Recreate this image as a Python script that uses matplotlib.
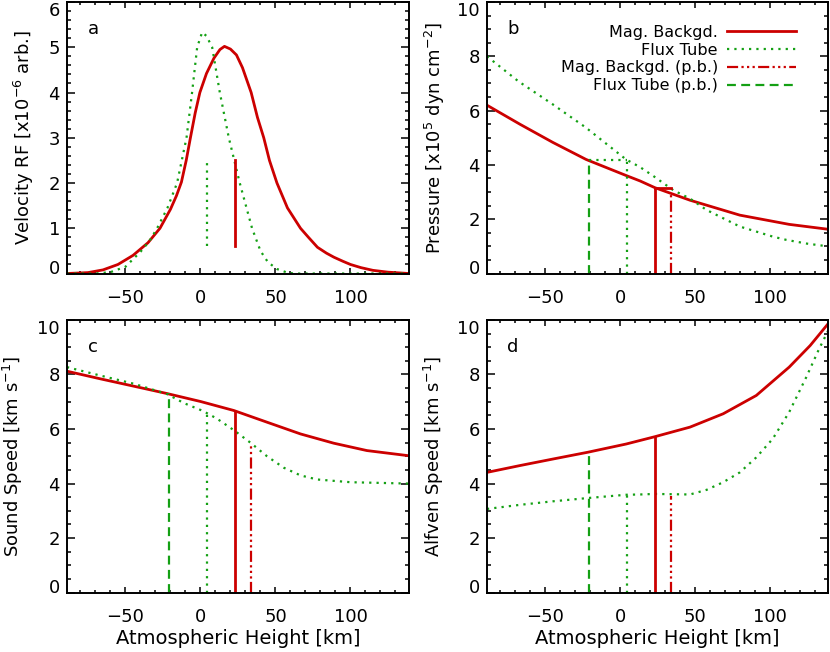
import numpy as np
import matplotlib.pyplot as plt
from matplotlib.lines import Line2D
from matplotlib.ticker import MultipleLocator

plt.rcParams['font.family'] = 'DejaVu Sans'

red = '#cc0000'
green = '#14a014'

# heights [km] of the line-forming markers
h_ft = 4.4
h_mb = 23.3
h_ft_pb = -21.1
h_mb_pb = 33.8

# velocity response function (x1e-6 arb.)
rf_mb_x = [-89, -75, -65, -55, -45, -35, -27, -20, -16, -12.7, -9.5, -6.7, -3.5, -0.4, 4, 9, 13, 16,
           20, 24, 28, 33.8, 38, 42.2, 46, 51, 58, 66.7, 72, 78, 84, 89, 95, 100, 107, 115, 125, 139]
rf_mb_y = [0.0, 0.02, 0.08, 0.2, 0.4, 0.68, 1.0, 1.42, 1.72, 2.02, 2.5, 3.0, 3.55, 4.0, 4.42, 4.76,
           4.95, 5.02, 4.96, 4.83, 4.55, 4.0, 3.45, 3.0, 2.5, 2.0, 1.45, 1.0, 0.8, 0.58, 0.45, 0.36,
           0.27, 0.2, 0.13, 0.07, 0.03, 0.0]
rf_ft_x = [-89, -70, -60, -50, -40, -34, -28.9, -22, -15.6, -9.3, -5.6, -2.2, 1.1, 4, 7.8, 12.9,
           18.9, 26.2, 34.4, 40, 45, 51, 57, 62, 139]
rf_ft_y = [0.0, 0.0, 0.03, 0.15, 0.48, 0.72, 1.0, 1.45, 2.0, 3.0, 4.0, 5.0, 5.33, 5.25, 5.0, 4.0,
           3.0, 2.0, 1.0, 0.5, 0.25, 0.1, 0.03, 0.0, 0.0]
rf_mark = [0.6, 2.5]

# pressure (x1e5 dyn cm^-2)
p_mb_x = [-89, -67, -45, -22.7, 4, 13.3, 23.3, 46.7, 80, 113, 139]
p_mb_y = [6.2, 5.5, 4.83, 4.2, 3.61, 3.41, 3.16, 2.7, 2.15, 1.81, 1.63]
p_ft_x = [-89, -68, -45, -23, 4, 13.3, 22, 35.5, 46.7, 57.8, 80, 102, 111, 125, 139]
p_ft_y = [8.0, 7.08, 6.23, 5.38, 4.2, 3.92, 3.6, 3.07, 2.76, 2.34, 1.73, 1.36, 1.24, 1.1, 1.0]
p_ft_top = 4.19
p_mb_top = 3.16
p_ft_pb_top = 4.1
p_mb_pb_top = 3.0

# sound speed (km/s)
cs_mb_x = [-89, -66.7, -44.4, -22.2, 0, 22.2, 44.4, 66.7, 88.9, 111, 139]
cs_mb_y = [8.12, 7.84, 7.57, 7.3, 7.01, 6.68, 6.25, 5.82, 5.48, 5.21, 5.02]
cs_ft_x = [-89, -66.7, -44.4, -22.2, -11, 0, 4.4, 11, 22.2, 33.3, 44.4, 55.6, 66.7, 77.8, 100, 139]
cs_ft_y = [8.27, 7.96, 7.66, 7.28, 6.95, 6.7, 6.58, 6.38, 5.96, 5.5, 5.0, 4.58, 4.3, 4.15, 4.05, 4.0]
cs_tops = [7.33, 6.58, 6.64, 5.5]  # ft_pb, ft, mb, mb_pb

# Alfven speed (km/s)
va_mb_x = [-89, -67, -44.9, -21.5, 4, 13.3, 23.3, 46.7, 68.9, 91, 113, 127, 139]
va_mb_y = [4.41, 4.66, 4.9, 5.15, 5.45, 5.58, 5.72, 6.07, 6.56, 7.23, 8.27, 9.06, 9.86]
va_ft_x = [-89, -67, -44.9, -21.5, 4, 13.3, 22.9, 46.7, 57.8, 68.9, 80, 91, 102, 113, 124.4, 133, 139]
va_ft_y = [3.07, 3.22, 3.35, 3.47, 3.59, 3.6, 3.62, 3.6, 3.77, 4.05, 4.41, 4.96, 5.64, 6.62, 7.9, 8.94, 9.6]
va_tops = [5.15, 3.6, 5.72, 3.56]

rf_ticks = [0, 1, 2, 3, 4, 5, 6]
ticks_10 = [0, 2, 4, 6, 8, 10]

dotted = (0, (1, 2.3))
dashed = (0, (4, 2.4))
dashdd = (0, (5, 1.5, 1, 1.5, 1, 1.5, 1, 1.5))

fig = plt.figure(figsize=(8.3, 6.52), dpi=100)
ax_a = fig.add_axes([0.0807, 0.5805, 0.412, 0.4164])
ax_b = fig.add_axes([0.5867, 0.5805, 0.411, 0.4164])
ax_c = fig.add_axes([0.0807, 0.091, 0.412, 0.4183])
ax_d = fig.add_axes([0.5867, 0.091, 0.411, 0.4183])

lw_s = 2.0
lw_d = 1.6

# a
ax_a.plot(rf_mb_x, rf_mb_y, color=red, lw=lw_s)
ax_a.plot(rf_ft_x, rf_ft_y, color=green, lw=lw_d, ls=dotted)
ax_a.plot([h_ft, h_ft], rf_mark, color=green, lw=lw_d, ls=dotted)
ax_a.plot([h_mb, h_mb], rf_mark, color=red, lw=lw_s)
ax_a.set_ylim(0, 6)
ax_a.set_ylabel('Velocity RF [x10$^{-6}$ arb.]')

# b
ax_b.plot(p_mb_x, p_mb_y, color=red, lw=lw_s)
ax_b.plot(p_ft_x, p_ft_y, color=green, lw=lw_d, ls=dotted)
ax_b.plot([h_ft_pb, h_ft_pb], [0, p_ft_pb_top], color=green, lw=lw_d, ls=dashed)
ax_b.plot([h_ft, h_ft], [0, p_ft_top], color=green, lw=lw_d, ls=dotted)
ax_b.plot([h_ft_pb, h_ft], [p_ft_top, p_ft_top], color=green, lw=lw_d, ls=dotted)
ax_b.plot([h_mb, h_mb], [0, p_mb_top], color=red, lw=lw_s)
ax_b.plot([h_mb, h_mb_pb], [p_mb_top, p_mb_top], color=red, lw=lw_s)
ax_b.plot([h_mb_pb, h_mb_pb], [0, p_mb_pb_top], color=red, lw=lw_d, ls=dashdd)
ax_b.set_ylim(0, 10)
ax_b.set_ylabel('Pressure [x10$^5$ dyn cm$^{-2}$]')

handles = [Line2D([], [], color=red, lw=lw_s),
           Line2D([], [], color=green, lw=lw_d, ls=dotted),
           Line2D([], [], color=red, lw=lw_d, ls=dashdd),
           Line2D([], [], color=green, lw=lw_d, ls=dashed)]
labels = ['Mag. Backgd.', 'Flux Tube', 'Mag. Backgd. (p.b.)', 'Flux Tube (p.b.)']
ax_b.legend(handles, labels, loc='upper right', bbox_to_anchor=(0.925, 0.94), frameon=False,
            markerfirst=False, handlelength=4.3, handletextpad=0.6, labelspacing=0.18,
            fontsize=11.5, borderaxespad=0)

# c
ax_c.plot(cs_mb_x, cs_mb_y, color=red, lw=lw_s)
ax_c.plot(cs_ft_x, cs_ft_y, color=green, lw=lw_d, ls=dotted)
ax_c.set_ylim(0, 10)
ax_c.set_ylabel('Sound Speed [km s$^{-1}$]')

# d
ax_d.plot(va_mb_x, va_mb_y, color=red, lw=lw_s)
ax_d.plot(va_ft_x, va_ft_y, color=green, lw=lw_d, ls=dotted)
ax_d.set_ylim(0, 10)
ax_d.set_ylabel('Alfven Speed [km s$^{-1}$]')

for ax, tops in [(ax_c, cs_tops), (ax_d, va_tops)]:
    ax.plot([h_ft_pb, h_ft_pb], [0, tops[0]], color=green, lw=lw_d, ls=dashed)
    ax.plot([h_ft, h_ft], [0, tops[1]], color=green, lw=lw_d, ls=dotted)
    ax.plot([h_mb, h_mb], [0, tops[2]], color=red, lw=lw_s)
    ax.plot([h_mb_pb, h_mb_pb], [0, tops[3]], color=red, lw=lw_d, ls=dashdd)
    ax.set_xlabel('Atmospheric Height [km]', fontsize=14, labelpad=2)

for ax, letter in zip([ax_a, ax_b, ax_c, ax_d], 'abcd'):
    ax.set_xlim(-89, 139)
    ax.xaxis.set_major_locator(MultipleLocator(50))
    ax.xaxis.set_minor_locator(MultipleLocator(10))
    if ax is ax_a:
        ax.set_yticks(rf_ticks)
        ax.yaxis.set_minor_locator(MultipleLocator(0.2))
    else:
        ax.set_yticks(ticks_10)
        ax.yaxis.set_minor_locator(MultipleLocator(0.5))
    ax.tick_params(which='both', direction='in', top=True, right=True, labelsize=13, width=1.1)
    ax.tick_params(axis='x', which='major', length=4, pad=11)
    ax.tick_params(axis='x', which='minor', length=2)
    ax.tick_params(axis='y', which='major', length=6, pad=5)
    ax.tick_params(axis='y', which='minor', length=3)
    for s in ax.spines.values():
        s.set_linewidth(1.4)
    ax.yaxis.label.set_size(13)
    ax.text(0.076, 0.9, letter, transform=ax.transAxes, fontsize=13, va='center', ha='center')
    # keep end labels inside the axis range, as in the original
    yt = ax.yaxis.get_major_ticks()
    yt[0].label1.set_verticalalignment('baseline')
    yt[-1].label1.set_verticalalignment('top')

ax_a.yaxis.set_label_coords(-0.09, 0.5)
ax_b.yaxis.set_label_coords(-0.118, 0.5)
ax_c.yaxis.set_label_coords(-0.123, 0.5)
ax_d.yaxis.set_label_coords(-0.12, 0.5)

plt.savefig('out.png', dpi=100)
